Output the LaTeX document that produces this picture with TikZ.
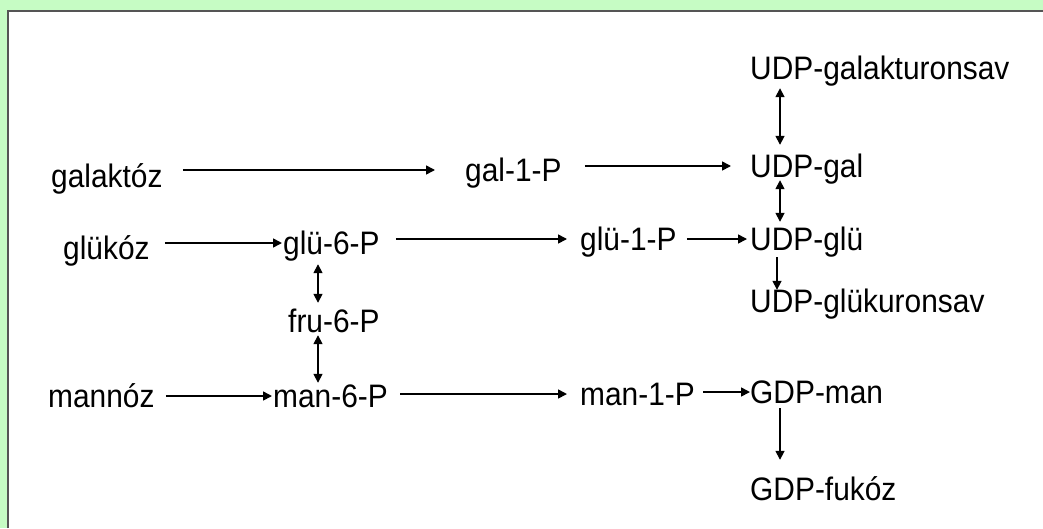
\documentclass[tikz,border=0pt]{standalone}
\usepackage{fontspec}
\setmainfont{Liberation Sans}[FakeStretch=0.92]
\usepackage{tikz}
\usetikzlibrary{arrows.meta}
\definecolor{pagegreen}{RGB}{198,252,196}
\definecolor{framegray}{RGB}{85,85,85}

\begin{document}
\begin{tikzpicture}[x=1pt,y=-1pt,
  every node/.style={anchor=west,inner sep=0pt,text height=22pt,text depth=0pt,
    font=\fontsize{32.5}{38}\selectfont},
  pil/.style={-{Triangle[length=9pt,width=9pt]},line width=1.6pt},
  both/.style={{Triangle[length=9pt,width=9pt]}-{Triangle[length=9pt,width=9pt]},line width=1.6pt}]
\useasboundingbox (0,0) rectangle (1043,528);
% background and frame
\fill[pagegreen] (0,0) rectangle (1043,528);
\fill[white] (8,11) rectangle (1043,528);
\draw[framegray,line width=2pt] (8,528) -- (8,11) -- (1043,11);
\coordinate (p1) at (51,176);
\coordinate (p2) at (465,170);
\coordinate (p3) at (750,166);
\coordinate (p4) at (750,68);
\coordinate (p5) at (63,248);
\coordinate (p6) at (283,243);
\coordinate (p7) at (580,239);
\coordinate (p8) at (750,239);
\coordinate (p9) at (750,301);
\coordinate (p10) at (288,321);
\coordinate (p11) at (48,396);
\coordinate (p12) at (273,396);
\coordinate (p13) at (580,394);
\coordinate (p14) at (750,392);
\coordinate (p15) at (750,489);
% draws compounds
\node (galaktoz) at (p1) {galaktóz};
\node (gal1p) at (p2) {gal-1-P};
\node (udpgal) at (p3) {UDP-gal};
\node (udpgalakt) at (p4) {UDP-galakturonsav};
\node (glukoz) at (p5) {glükóz};
\node (glu6p) at (p6) {glü-6-P};
\node (glu1p) at (p7) {glü-1-P};
\node (udpglu) at (p8) {UDP-glü};
\node (udpgluk) at (p9) {UDP-glükuronsav};
\node (fru6p) at (p10) {fru-6-P};
\node (mannoz) at (p11) {mannóz};
\node (man6p) at (p12) {man-6-P};
\node (man1p) at (p13) {man-1-P};
\node (gdpman) at (p14) {GDP-man};
\node (gdpfuk) at (p15) {GDP-fukóz};
% draws reactions
\draw[pil,shorten <=20pt,shorten >=30pt] (galaktoz.east |- gal1p.west) -- (gal1p.west);
\draw[pil,shorten <=23pt,shorten >=19pt] (gal1p.east |- udpgal.west) -- (udpgal.west);
\draw[pil,shorten <=15pt,shorten >=1pt] (glukoz.east |- glu6p.west) -- (glu6p.west);
\draw[pil,shorten <=16pt,shorten >=13pt] (glu6p.east |- glu1p.west) -- (glu1p.west);
\draw[pil,shorten <=10pt,shorten >=3pt] (glu1p.east |- udpglu.west) -- (udpglu.west);
\draw[pil,shorten <=11pt,shorten >=1pt] (mannoz.east |- man6p.west) -- (man6p.west);
\draw[pil,shorten <=12pt,shorten >=13pt] (man6p.east |- man1p.west) -- (man1p.west);
\draw[pil,shorten <=8pt,shorten >=0pt] (man1p.east |- gdpman.west) -- (gdpman.west);
\draw[both,shorten <=9pt,shorten >=10pt] ([xshift=30pt]udpgalakt.south west) -- ([xshift=30pt]udpgal.north west);
\draw[both,shorten <=3pt,shorten >=6pt] ([xshift=30pt]udpgal.south west) -- ([xshift=30pt]udpglu.north west);
\draw[pil,shorten <=7pt,shorten >=0pt] ([xshift=27pt]udpglu.south west) -- ([xshift=27pt]udpgluk.north west);
\draw[pil,shorten <=5pt,shorten >=18pt] ([xshift=30pt]gdpman.south west) -- ([xshift=30pt]gdpfuk.north west);
\draw[both,shorten <=10pt,shorten >=7pt] ([xshift=35pt]glu6p.south west) -- ([xshift=30pt]fru6p.north west);
\draw[both,shorten <=3pt,shorten >=2pt] ([xshift=30pt]fru6p.south west) -- ([xshift=45pt]man6p.north west);
\end{tikzpicture}
\end{document}
